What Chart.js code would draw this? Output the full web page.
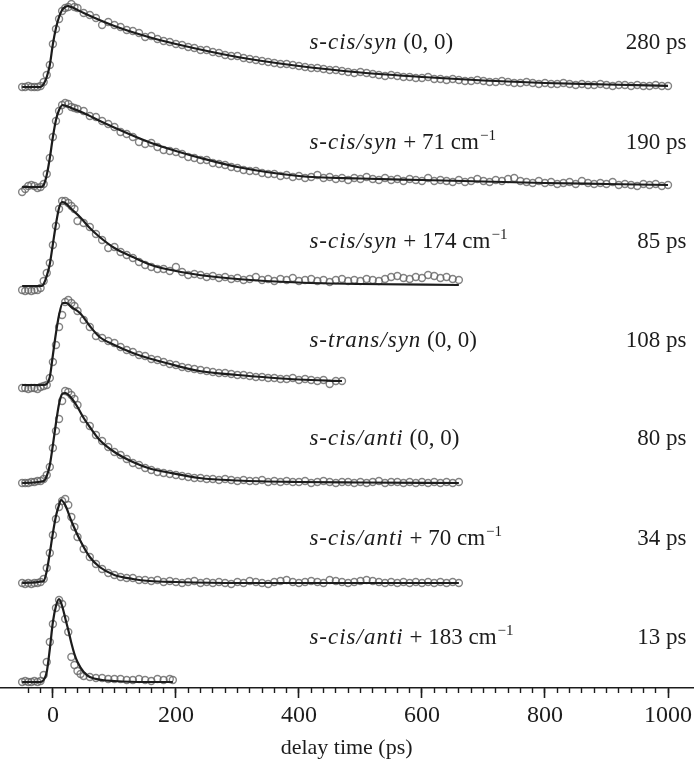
<!DOCTYPE html>
<html>
<head>
<meta charset="utf-8">
<script src="https://cdn.jsdelivr.net/npm/chart.js@4.4.1/dist/chart.umd.min.js"></script>
<style>
  html, body { margin: 0; padding: 0; background: #fff; }
  #wrap { width: 695px; height: 767px; position: relative; }
</style>
</head>
<body>
<div id="wrap"><canvas id="decay-canvas"></canvas></div>
<script>
// delay times (ps) of the measured points
const riseTimes = [-50, -45, -40, -35, -30, -25, -20, -15, -10, -5, 0, 5, 10, 15, 20, 25, 30, 35, 40];
const tailTimes = [50, 60, 70, 80, 90, 100, 110, 120, 130, 140, 150, 160, 170, 180, 190, 200, 210, 220, 230, 240,
  250, 260, 270, 280, 290, 300, 310, 320, 330, 340, 350, 360, 370, 380, 390, 400, 410, 420, 430, 440,
  450, 460, 470, 480, 490, 500, 510, 520, 530, 540, 550, 560, 570, 580, 590, 600, 610, 620, 630, 640,
  650, 660, 670, 680, 690, 700, 710, 720, 730, 740, 750, 760, 770, 780, 790, 800, 810, 820, 830, 840,
  850, 860, 870, 880, 890, 900, 910, 920, 930, 940, 950, 960, 970, 980, 990, 1000];
const shortTimes = [-50, -45, -40, -35, -30, -25, -20, -15, -10, -5, 0, 5, 10, 15, 20, 25, 30, 35, 40, 45,
  50, 60, 70, 80, 90, 100, 110, 120, 130, 140, 150, 160, 170, 180, 190, 195];

const times1 = riseTimes.concat(tailTimes);
const times2 = riseTimes.concat(tailTimes);
const times3 = riseTimes.concat(tailTimes.slice(0, 62));
const times4 = riseTimes.concat(tailTimes.slice(0, 43));
const times5 = riseTimes.concat(tailTimes.slice(0, 62));
const times6 = riseTimes.concat(tailTimes.slice(0, 62));
const times7 = shortTimes;

// measured signal above each trace's own baseline
const data1 = [0.00, 0.00, 0.01, 0.00, 0.00, 0.00, 0.01, 0.05, 0.12, 0.22, 0.43, 0.58, 0.68, 0.76, 0.79, 0.80, 0.83, 0.80, 0.79,
  0.74, 0.72, 0.69, 0.62, 0.65, 0.62, 0.60, 0.57, 0.56, 0.54,
  0.50, 0.51, 0.48, 0.46, 0.45, 0.43, 0.42, 0.40, 0.39, 0.37,
  0.37, 0.35, 0.34, 0.32, 0.31, 0.31, 0.29, 0.28, 0.27, 0.26,
  0.25, 0.24, 0.23, 0.23, 0.22, 0.21, 0.20, 0.19, 0.19, 0.18,
  0.17, 0.17, 0.16, 0.15, 0.14, 0.15, 0.14, 0.13, 0.12, 0.11,
  0.12, 0.11, 0.10, 0.10, 0.09, 0.09, 0.10, 0.08, 0.08, 0.07,
  0.08, 0.07, 0.06, 0.06, 0.07, 0.06, 0.05, 0.05, 0.06, 0.05,
  0.04, 0.04, 0.05, 0.04, 0.03, 0.04, 0.03, 0.03, 0.04, 0.03,
  0.02, 0.03, 0.02, 0.02, 0.03, 0.02, 0.01, 0.02, 0.02, 0.01,
  0.02, 0.01, 0.01, 0.02, 0.01, 0.01];
const data2 = [-0.05, -0.02, 0.01, 0.02, 0.01, -0.01, 0.00, 0.03, 0.13, 0.29, 0.50, 0.66, 0.76, 0.82, 0.84, 0.83, 0.80, 0.79, 0.78,
  0.76, 0.71, 0.70, 0.66, 0.63, 0.60, 0.55, 0.53, 0.50, 0.45,
  0.43, 0.44, 0.40, 0.37, 0.36, 0.35, 0.33, 0.30, 0.29, 0.27,
  0.27, 0.24, 0.23, 0.22, 0.20, 0.19, 0.17, 0.16, 0.16, 0.14,
  0.13, 0.13, 0.11, 0.12, 0.10, 0.11, 0.09, 0.10, 0.12, 0.09,
  0.10, 0.08, 0.09, 0.07, 0.09, 0.08, 0.10, 0.08, 0.07, 0.09,
  0.07, 0.08, 0.06, 0.08, 0.07, 0.06, 0.09, 0.06, 0.07, 0.06,
  0.05, 0.07, 0.05, 0.06, 0.08, 0.06, 0.05, 0.07, 0.06, 0.08,
  0.09, 0.06, 0.05, 0.04, 0.06, 0.04, 0.05, 0.03, 0.04, 0.05,
  0.03, 0.06, 0.04, 0.03, 0.04, 0.03, 0.05, 0.02, 0.03, 0.02,
  0.01, 0.03, 0.02, 0.03, 0.01, 0.02];
const data3 = [-0.04, -0.05, -0.04, -0.05, -0.04, -0.04, -0.02, 0.05, 0.13, 0.23, 0.41, 0.60, 0.77, 0.85, 0.85, 0.83, 0.80, 0.77, 0.65,
  0.63, 0.59, 0.52, 0.46, 0.38, 0.39, 0.34, 0.31, 0.28, 0.24,
  0.21, 0.19, 0.17, 0.17, 0.15, 0.19, 0.14, 0.11, 0.12, 0.11,
  0.09, 0.10, 0.08, 0.09, 0.07, 0.08, 0.06, 0.07, 0.09, 0.06,
  0.07, 0.05, 0.07, 0.06, 0.08, 0.05, 0.06, 0.07, 0.05, 0.06,
  0.04, 0.06, 0.07, 0.05, 0.06, 0.05, 0.07, 0.06, 0.05, 0.07,
  0.09, 0.10, 0.08, 0.07, 0.09, 0.08, 0.11, 0.10, 0.08, 0.09,
  0.07, 0.06];
const data4 = [-0.03, -0.03, -0.04, -0.03, -0.03, -0.04, -0.02, -0.01, 0.00, 0.07, 0.23, 0.40, 0.58, 0.70, 0.83, 0.85, 0.82, 0.79, 0.74,
  0.65, 0.58, 0.49, 0.47, 0.44, 0.42, 0.38, 0.35, 0.33, 0.30,
  0.29, 0.26, 0.25, 0.23, 0.21, 0.20, 0.18, 0.17, 0.16, 0.15,
  0.14, 0.13, 0.12, 0.12, 0.11, 0.10, 0.10, 0.09, 0.08, 0.08,
  0.07, 0.07, 0.06, 0.06, 0.07, 0.05, 0.06, 0.05, 0.04, 0.05,
  0.01, 0.04, 0.04];
const data5 = [0.00, 0.00, 0.00, 0.01, 0.01, 0.02, 0.02, 0.04, 0.08, 0.16, 0.35, 0.52, 0.64, 0.82, 0.92, 0.91, 0.88, 0.84, 0.78,
  0.64, 0.57, 0.48, 0.42, 0.36, 0.31, 0.28, 0.24, 0.20, 0.18,
  0.15, 0.13, 0.11, 0.10, 0.09, 0.08, 0.07, 0.06, 0.05, 0.05,
  0.04, 0.04, 0.03, 0.04, 0.03, 0.02, 0.03, 0.02, 0.02, 0.03,
  0.01, 0.02, 0.01, 0.02, 0.01, 0.01, 0.02, 0.00, 0.01, 0.02,
  0.01, 0.00, 0.01, 0.01, 0.00, 0.01, 0.00, 0.01, 0.02, 0.00,
  0.01, 0.01, 0.00, 0.01, 0.00, 0.01, 0.00, 0.01, 0.00, 0.01,
  0.00, 0.01];
const data6 = [0.00, -0.01, 0.00, -0.01, 0.00, 0.00, 0.01, 0.04, 0.15, 0.30, 0.48, 0.64, 0.76, 0.82, 0.84, 0.78, 0.66, 0.56, 0.46,
  0.34, 0.26, 0.19, 0.14, 0.10, 0.08, 0.06, 0.05, 0.05, 0.03,
  0.03, 0.02, 0.03, 0.01, 0.02, 0.01, 0.00, 0.01, 0.02, 0.00,
  0.01, 0.00, 0.01, 0.00, -0.01, 0.01, 0.00, 0.02, 0.01, 0.00,
  -0.01, 0.01, 0.02, 0.03, 0.01, 0.00, 0.01, 0.02, 0.01, 0.00,
  0.03, 0.02, 0.01, 0.00, 0.01, 0.02, 0.03, 0.02, 0.01, 0.00,
  0.01, 0.00, 0.01, 0.00, 0.01, 0.00, 0.01, 0.00, 0.01, 0.00,
  0.01, 0.00];
const data7 = [0.00, 0.01, 0.00, 0.00, 0.01, 0.00, 0.01, 0.07, 0.20, 0.40, 0.58, 0.74, 0.82, 0.78, 0.63, 0.50, 0.25, 0.17, 0.11, 0.08,
  0.06, 0.05, 0.04, 0.04, 0.03, 0.03, 0.03, 0.02, 0.02, 0.03, 0.02, 0.01, 0.03, 0.02, 0.03, 0.02];

// fitted curves
const fitTimes1 = [-50, -20, -15, -10, -5, 0, 5, 10, 15, 20, 25, 30, 50, 100, 150, 200, 300, 400, 500, 600, 700, 800, 900, 1000];
const fit1 = [0, 0, 0.03, 0.10, 0.22, 0.43, 0.59, 0.70, 0.77, 0.80, 0.81, 0.80, 0.74, 0.61, 0.51, 0.43, 0.30, 0.21, 0.145, 0.10, 0.065, 0.04, 0.025, 0.012];
const fitTimes2 = [-50, -20, -15, -10, -5, 0, 5, 10, 16, 22, 30, 50, 80, 120, 160, 200, 240, 300, 400, 500, 600, 700, 800, 900, 1000];
const fit2 = [0, 0, 0.02, 0.12, 0.29, 0.50, 0.67, 0.77, 0.82, 0.81, 0.79, 0.74, 0.65, 0.54, 0.44, 0.36, 0.29, 0.20, 0.11, 0.085, 0.07, 0.055, 0.04, 0.03, 0.02];
const fitTimes3 = [-50, -18, -15, -10, -5, 0, 5, 10, 15, 20, 30, 44, 60, 76, 100, 130, 160, 184, 238, 300, 400, 500, 660];
const fit3 = [0, 0, 0.02, 0.10, 0.22, 0.42, 0.62, 0.78, 0.84, 0.83, 0.77, 0.69, 0.58, 0.49, 0.38, 0.29, 0.21, 0.17, 0.11, 0.07, 0.035, 0.02, 0.01];
const fitTimes4 = [-50, -15, -10, -5, 0, 5, 10, 16, 22, 30, 44, 60, 76, 100, 130, 160, 184, 238, 300, 350, 400, 470];
const fit4 = [0, 0, 0.01, 0.08, 0.30, 0.52, 0.70, 0.82, 0.82, 0.78, 0.72, 0.59, 0.48, 0.40, 0.32, 0.26, 0.22, 0.14, 0.10, 0.075, 0.055, 0.04];
const fitTimes5 = [-50, -15, -10, -5, 0, 5, 10, 15, 20, 30, 40, 49, 60, 76, 100, 130, 160, 184, 238, 300, 400, 500, 660];
const fit5 = [0, 0.02, 0.07, 0.18, 0.38, 0.60, 0.79, 0.89, 0.90, 0.85, 0.76, 0.66, 0.56, 0.43, 0.31, 0.21, 0.14, 0.11, 0.05, 0.025, 0.01, 0.005, 0];
const fitTimes6 = [-50, -15, -10, -5, 0, 5, 10, 13, 20, 30, 44, 60, 76, 100, 130, 157, 200, 300, 660];
const fit6 = [0, 0.02, 0.12, 0.30, 0.50, 0.67, 0.78, 0.83, 0.78, 0.62, 0.43, 0.26, 0.16, 0.08, 0.04, 0.02, 0.01, 0, 0];
const fitTimes7 = [-50, -20, -15, -10, -5, 0, 5, 10, 15, 20, 25, 30, 35, 40, 50, 60, 80, 100, 150, 195];
const fit7 = [0, 0, 0.02, 0.10, 0.33, 0.60, 0.76, 0.83, 0.76, 0.64, 0.52, 0.39, 0.28, 0.20, 0.10, 0.05, 0.02, 0.01, 0, 0];

// vertical offset of every trace (stacked plot)
const offsets = [6.01, 5.01, 4.02, 3.03, 2.05, 1.05, 0.06];

// labels
const labelNames = ["s-cis/syn", "s-cis/syn", "s-cis/syn", "s-trans/syn", "s-cis/anti", "s-cis/anti", "s-cis/anti"];
const labelRest = [" (0, 0)", " + 71 cm", " + 174 cm", " (0, 0)", " (0, 0)", " + 70 cm", " + 183 cm"];
const labelSup = ["", "\u22121", "\u22121", "", "", "\u22121", "\u22121"];
const lifetimes = ["280 ps", "190 ps", "85 ps", "108 ps", "80 ps", "34 ps", "13 ps"];

const majorTicks = [0, 200, 400, 600, 800, 1000];
const minorStep = 20;

const pointTimes = [times1, times2, times3, times4, times5, times6, times7];
const pointValues = [data1, data2, data3, data4, data5, data6, data7];
const fitTimes = [fitTimes1, fitTimes2, fitTimes3, fitTimes4, fitTimes5, fitTimes6, fitTimes7];
const fitValues = [fit1, fit2, fit3, fit4, fit5, fit6, fit7];

const SERIF = '"Liberation Serif", "Times New Roman", serif';
const INK = "#1c1c1c";

let datasets = [];
offsets.forEach((off, i) => {
  datasets.push({
    type: "line",
    label: "fit " + (i + 1),
    data: fitTimes[i].map((t, j) => ({ x: t, y: off + fitValues[i][j] })),
    borderColor: INK,
    borderWidth: 2.2,
    pointRadius: 0,
    cubicInterpolationMode: "monotone",
    fill: false,
    clip: false,
    order: 0,
  });
  datasets.push({
    type: "scatter",
    label: "data " + (i + 1),
    data: pointTimes[i].map((t, j) => ({ x: t, y: off + pointValues[i][j] })),
    borderColor: "rgba(100, 100, 100, 0.8)",
    backgroundColor: "rgba(255, 255, 255, 0)",
    borderWidth: 1.4,
    pointRadius: 3.5,
    pointStyle: "circle",
    clip: false,
    order: 1,
  });
});

// text next to each trace
const traceLabels = {
  id: "traceLabels",
  afterDatasetsDraw(chart) {
    const { ctx } = chart;
    const xs = chart.scales.x;
    const ys = chart.scales.y;
    ctx.save();
    ctx.fillStyle = INK;
    ctx.textBaseline = "alphabetic";
    offsets.forEach((off, i) => {
      const yPix = ys.getPixelForValue(off + 0.38);
      let xPix = xs.getPixelForValue(417);
      ctx.textAlign = "left";
      ctx.font = "italic 23px " + SERIF;
      ctx.letterSpacing = "1px";
      ctx.fillText(labelNames[i], xPix, yPix);
      xPix += ctx.measureText(labelNames[i]).width;
      ctx.letterSpacing = "0px";
      ctx.font = "23px " + SERIF;
      ctx.fillText(labelRest[i], xPix, yPix);
      xPix += ctx.measureText(labelRest[i]).width;
      if (labelSup[i]) {
        ctx.font = "15px " + SERIF;
        ctx.fillText(labelSup[i], xPix + 1, yPix - 9);
      }
      ctx.font = "23px " + SERIF;
      ctx.textAlign = "right";
      ctx.fillText(lifetimes[i], xs.getPixelForValue(1030), yPix);
    });
    ctx.restore();
  },
};

const decayChart = new Chart(document.getElementById("decay-canvas"), {
  data: { datasets },
  options: {
    responsive: true,
    maintainAspectRatio: false,
    animation: false,
    layout: { padding: 0, autoPadding: false },
    plugins: {
      legend: { display: false },
      tooltip: { enabled: false },
    },
    scales: {
      x: {
        type: "linear",
        position: "bottom",
        min: -86,
        max: 1041,
        border: { color: INK, width: 1.6 },
        grid: {
          drawOnChartArea: false,
          drawTicks: true,
          tickLength: 10,
          tickColor: INK,
          tickWidth: 1.6,
        },
        afterBuildTicks: (scale) => {
          scale.ticks = majorTicks.map((v) => ({ value: v }));
        },
        ticks: {
          color: INK,
          padding: 3,
          maxRotation: 0,
          font: { family: SERIF, size: 24 },
          callback: (v) => String(v),
        },
        title: {
          display: true,
          text: "delay time (ps)",
          color: INK,
          padding: { top: 0, bottom: 6 },
          font: { family: SERIF, size: 22 },
        },
        afterFit: (scale) => {
          scale.height = 79;
        },
      },
      xMinor: {
        type: "linear",
        position: { y: 0 },
        min: -86,
        max: 1041,
        border: { display: false },
        grid: {
          drawOnChartArea: false,
          drawTicks: true,
          tickLength: 5,
          tickColor: INK,
          tickWidth: 1.4,
        },
        afterBuildTicks: (scale) => {
          const ticks = [];
          for (let v = -40; v <= 1000; v += minorStep) ticks.push({ value: v });
          scale.ticks = ticks;
        },
        ticks: { display: false },
      },
      y: {
        display: false,
        min: 0,
        max: 6.88,
      },
    },
  },
  plugins: [traceLabels],
});
</script>
</body>
</html>
